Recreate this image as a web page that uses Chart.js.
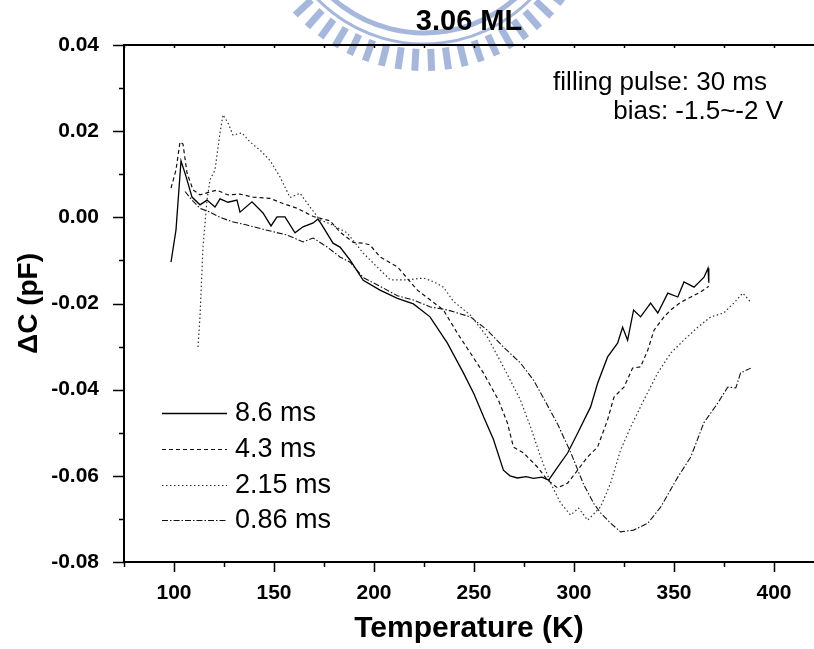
<!DOCTYPE html>
<html>
<head>
<meta charset="utf-8">
<script src="https://cdn.jsdelivr.net/npm/chart.js@4"></script>
<style>
  html, body { margin: 0; padding: 0; background: #fff; overflow: hidden; }
  #wrap { width: 814px; height: 649px; }
</style>
</head>
<body>
<div id="wrap"><canvas id="dltsChart" width="814" height="649"></canvas></div>
<script>
// series labels
const seriesNames = ['8.6 ms', '4.3 ms', '2.15 ms', '0.86 ms'];

// 8.6 ms (solid)
const t86 = [98.5, 101, 103.5, 106, 109, 113, 116.5, 120.5, 123, 127, 131.5, 133, 139, 144.5, 148.5, 151.5, 155.5, 160.5, 164.5, 169.6, 172, 174, 179.5, 183, 188, 194.6, 203, 211.7, 219.7, 228, 236.7, 244.7, 250, 255, 259.7, 264.7, 268, 271.7, 276, 279.7, 284, 287.3, 291.8, 296.8, 301.8, 308.3, 311.8, 316.8, 321.8, 324.3, 326.8, 329.8, 333.3, 338.3, 341.9, 346.9, 351.9, 355, 360, 365, 367, 367.4];
const c86 = [-0.0104, -0.0029, 0.0131, 0.0095, 0.0047, 0.0029, 0.0040, 0.0024, 0.0043, 0.0035, 0.0040, 0.0012, 0.0036, 0.0010, -0.0020, 0.0001, 0.0001, -0.0036, -0.0022, -0.0013, -0.0004, -0.0018, -0.0060, -0.0069, -0.0099, -0.0146, -0.0169, -0.0188, -0.0201, -0.0231, -0.0292, -0.0361, -0.0410, -0.0465, -0.0515, -0.0587, -0.0600, -0.0605, -0.0602, -0.0606, -0.0603, -0.0610, -0.0580, -0.0547, -0.0501, -0.0440, -0.0385, -0.0324, -0.0292, -0.0255, -0.0285, -0.0215, -0.0231, -0.0199, -0.0222, -0.0176, -0.0185, -0.0150, -0.0162, -0.0139, -0.0118, -0.0152];

// 4.3 ms (dashed)
const t43 = [98.5, 101, 103, 104.5, 106.5, 109.5, 113, 118, 121.5, 127, 133, 139.5, 148, 154.5, 161.6, 169.6, 178, 183, 189.6, 194.6, 198, 203, 211.7, 221.7, 228.2, 234.7, 241.7, 248.2, 254.7, 262.2, 266.7, 269.7, 274.8, 281.8, 286.8, 291.8, 296.8, 301.8, 306.8, 311.8, 316.8, 320, 325, 329.3, 333.3, 336.9, 340, 345, 348.4, 353.4, 358.4, 363.4, 367.4];
const c43 = [0.0068, 0.0110, 0.0175, 0.0170, 0.0103, 0.0064, 0.0052, 0.0059, 0.0063, 0.0052, 0.0054, 0.0047, 0.0044, 0.0032, 0.0021, 0.0002, -0.0008, -0.0034, -0.0058, -0.0060, -0.0064, -0.0092, -0.0115, -0.0169, -0.0192, -0.0215, -0.0269, -0.0315, -0.0361, -0.0424, -0.0477, -0.0533, -0.0547, -0.0580, -0.0610, -0.0628, -0.0617, -0.0587, -0.0556, -0.0533, -0.0470, -0.0417, -0.0394, -0.0350, -0.0347, -0.0308, -0.0262, -0.0231, -0.0215, -0.0197, -0.0185, -0.0173, -0.0160];

// 2.15 ms (dotted)
const t215 = [112, 113, 114.5, 116.5, 118, 120.5, 123, 124.5, 127, 129.5, 134, 138, 143, 148, 153, 158, 163, 168, 173, 178, 186.6, 194.6, 203, 208.2, 216.7, 224.7, 230, 234.7, 239.7, 248.2, 256.7, 264.7, 273.2, 278.3, 283.3, 288.3, 293.3, 298.3, 302.3, 306.8, 313.3, 318.3, 323.3, 328.3, 334.9, 341.9, 348.4, 354.9, 361.9, 368.4, 374.9, 379.9, 384.4, 388.4];
const c215 = [-0.0301, -0.0231, -0.0069, 0.0040, 0.0087, 0.0110, 0.0196, 0.0238, 0.0219, 0.0191, 0.0196, 0.0175, 0.0156, 0.0132, 0.0094, 0.0046, 0.0056, 0.0024, -0.0006, -0.0015, -0.0036, -0.0083, -0.0122, -0.0145, -0.0145, -0.0141, -0.0150, -0.0162, -0.0195, -0.0227, -0.0278, -0.0347, -0.0424, -0.0487, -0.0556, -0.0617, -0.0663, -0.0691, -0.0675, -0.0703, -0.0672, -0.0617, -0.0540, -0.0487, -0.0424, -0.0361, -0.0315, -0.0285, -0.0255, -0.0231, -0.0222, -0.0199, -0.0176, -0.0197];

// 0.86 ms (dash-dot)
const t086 = [105.5, 109, 113, 118, 123, 129, 136.5, 146.5, 156.5, 164.6, 169.6, 176.6, 183, 188, 194.6, 203, 211.7, 219.7, 228.2, 236.7, 248.2, 256.7, 264.7, 273.2, 279.8, 284.8, 291.8, 298.3, 304.8, 310, 313.3, 318.3, 323.3, 329.8, 336.9, 343.4, 351.9, 358.4, 364.9, 371.9, 376.9, 380.9, 383.3, 388.4];
const c086 = [0.0060, 0.0040, 0.0021, 0.0012, 0.0000, -0.0010, -0.0018, -0.0030, -0.0041, -0.0057, -0.0048, -0.0069, -0.0092, -0.0104, -0.0140, -0.0160, -0.0182, -0.0192, -0.0208, -0.0215, -0.0231, -0.0262, -0.0301, -0.0338, -0.0378, -0.0420, -0.0480, -0.0545, -0.0620, -0.0665, -0.0686, -0.0710, -0.0730, -0.0726, -0.0710, -0.0672, -0.0603, -0.0556, -0.0477, -0.0431, -0.0394, -0.0396, -0.0361, -0.0350];

// axis settings
const xMin = 75, xMax = 420, xMinor = 25, xLabelStep = 50;
const yMin = -0.08, yMax = 0.04, yMinor = 0.01;
const noteLines = ['filling pulse: 30 ms', 'bias: -1.5~-2 V'];

const FONT = "'Liberation Sans', Arial, Helvetica, sans-serif";
Chart.defaults.font.family = FONT;
Chart.defaults.color = '#000';

function pts(xs, ys) {
  return xs.map((x, i) => ({ x: x, y: ys[i] }));
}

const lineStyles = [
  { dash: [], width: 1.3, color: '#000' },
  { dash: [4, 3], width: 1.2, color: '#111' },
  { dash: [1.5, 2.5], width: 1.2, color: '#333' },
  { dash: [6, 2, 1.5, 2], width: 1.1, color: '#111' }
];
const allT = [t86, t43, t215, t086];
const allC = [c86, c43, c215, c086];

const datasets = seriesNames.map((name, i) => ({
  label: name,
  data: pts(allT[i], allC[i]),
  showLine: true,
  borderColor: lineStyles[i].color,
  borderWidth: lineStyles[i].width,
  borderDash: lineStyles[i].dash,
  pointRadius: 0,
  fill: false,
  tension: 0
}));

// faint emblem behind the title
const watermark = {
  id: 'watermark',
  beforeDraw(chart) {
    const ctx = chart.ctx;
    const cx = 424, cy = -105;
    ctx.save();
    ctx.strokeStyle = 'rgba(150,170,215,0.85)';
    ctx.lineWidth = 5;
    ctx.beginPath();
    ctx.arc(cx, cy, 138, Math.PI * 0.2, Math.PI * 0.8);
    ctx.stroke();
    ctx.lineWidth = 3;
    ctx.beginPath();
    ctx.arc(cx, cy, 149, Math.PI * 0.21, Math.PI * 0.79);
    ctx.stroke();
    ctx.lineWidth = 7;
    for (let a = 38; a <= 142; a += 5.5) {
      const r = a * Math.PI / 180;
      ctx.beginPath();
      ctx.moveTo(cx + 154 * Math.cos(r), cy + 154 * Math.sin(r));
      ctx.lineTo(cx + 176 * Math.cos(r), cy + 176 * Math.sin(r));
      ctx.stroke();
    }
    ctx.restore();
  }
};

// axes frame, ticks, legend and notes
const frame = {
  id: 'frame',
  afterDraw(chart) {
    const ctx = chart.ctx;
    const a = chart.chartArea;
    const xs = chart.scales.x, ys = chart.scales.y;
    ctx.save();
    ctx.strokeStyle = '#000';
    ctx.lineWidth = 2;
    ctx.beginPath();
    ctx.moveTo(a.left, a.top); ctx.lineTo(a.left, a.bottom);
    ctx.moveTo(a.left - 1, a.bottom); ctx.lineTo(a.right, a.bottom);
    ctx.moveTo(a.left - 1, a.top); ctx.lineTo(a.right, a.top);
    ctx.stroke();

    ctx.lineWidth = 1.5;
    ctx.beginPath();
    for (let v = xMin; v <= xMax + 1e-9; v += xMinor) {
      const px = Math.round(xs.getPixelForValue(v)) + 0.5;
      const major = v % xLabelStep === 0;
      ctx.moveTo(px, a.bottom); ctx.lineTo(px, a.bottom + (major ? 10 : 5));
      ctx.moveTo(px, a.top); ctx.lineTo(px, a.top + 3);
    }
    for (let k = 0; k <= Math.round((yMax - yMin) / yMinor); k++) {
      const v = yMin + k * yMinor;
      const py = Math.round(ys.getPixelForValue(v)) + 0.5;
      const major = k % 2 === 0;
      ctx.moveTo(a.left, py); ctx.lineTo(a.left - (major ? 11 : 5), py);
    }
    ctx.stroke();

    // legend
    const rowY = [413, 449, 485, 520];
    chart.data.datasets.forEach((ds, i) => {
      ctx.strokeStyle = ds.borderColor;
      ctx.lineWidth = ds.borderWidth;
      ctx.setLineDash(ds.borderDash);
      ctx.beginPath();
      ctx.moveTo(162, rowY[i] + 0.5);
      ctx.lineTo(227, rowY[i] + 0.5);
      ctx.stroke();
      ctx.setLineDash([]);
      ctx.fillStyle = '#000';
      ctx.font = '27px ' + FONT;
      ctx.textBaseline = 'middle';
      ctx.textAlign = 'left';
      ctx.fillText(ds.label, 235, rowY[i] + 1);
    });

    // notes
    ctx.font = '26px ' + FONT;
    ctx.textAlign = 'right';
    ctx.fillText(noteLines[0], 767, 83);
    ctx.fillText(noteLines[1], 783, 112);
    ctx.restore();
  }
};

new Chart(document.getElementById('dltsChart'), {
  type: 'scatter',
  data: { datasets: datasets },
  plugins: [watermark, frame],
  options: {
    responsive: false,
    animation: false,
    devicePixelRatio: 1,
    layout: { padding: 0 },
    plugins: {
      legend: { display: false },
      tooltip: { enabled: false },
      title: {
        display: true,
        text: '3.06 ML',
        fullSize: false,
        font: { size: 29, weight: 'bold' },
        color: '#000',
        padding: { top: 5, bottom: 5.2 }
      }
    },
    scales: {
      x: {
        type: 'linear',
        min: xMin,
        max: xMax,
        grid: { display: false },
        border: { display: false },
        afterBuildTicks(s) {
          const t = [];
          for (let v = xMin; v <= xMax; v += xMinor) t.push({ value: v });
          s.ticks = t;
        },
        afterFit(s) { s.height = 87; },
        ticks: {
          autoSkip: false,
          maxRotation: 0,
          padding: 11,
          font: { size: 21, weight: 'bold' },
          callback: (v) => (v % xLabelStep === 0 && v >= 100 && v <= 400) ? String(v) : ''
        },
        title: {
          display: true,
          text: 'Temperature (K)',
          font: { size: 30, weight: 'bold' },
          padding: { top: 0, bottom: 2 }
        }
      },
      y: {
        type: 'linear',
        min: yMin,
        max: yMax,
        grid: { display: false },
        border: { display: false },
        afterBuildTicks(s) {
          const t = [];
          for (let k = 0; k <= Math.round((yMax - yMin) / yMinor); k++) {
            t.push({ value: Math.round((yMin + k * yMinor) * 100) / 100 });
          }
          s.ticks = t;
        },
        afterFit(s) { s.width = 124; },
        ticks: {
          autoSkip: false,
          padding: 17,
          font: { size: 21, weight: 'bold' },
          callback: (v) => {
            const n = Math.round(v * 100);
            return n % 2 === 0 ? (n / 100).toFixed(2) : '';
          }
        },
        title: {
          display: true,
          text: 'ΔC (pF)',
          font: { size: 28, weight: 'bold' },
          padding: { top: 12, bottom: 0 }
        }
      }
    }
  }
});
</script>
</body>
</html>
